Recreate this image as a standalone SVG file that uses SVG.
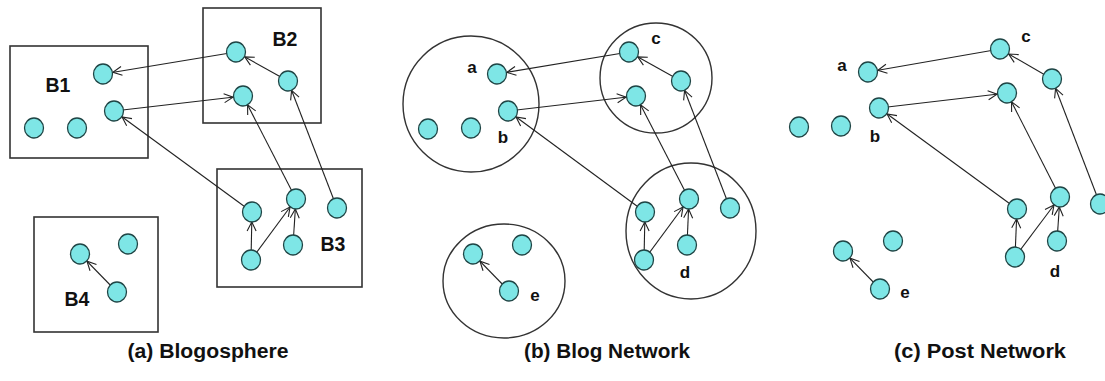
<svg xmlns="http://www.w3.org/2000/svg" width="1105" height="381" viewBox="0 0 1105 381">
<style>
.n{fill:#7ee6e6;stroke:#1f4545;stroke-width:1.3}
.box{fill:none;stroke:#333;stroke-width:1.6}
.grp{fill:none;stroke:#333;stroke-width:1.4}
.e{stroke:#222;stroke-width:1.1;fill:none;marker-end:url(#arr)}
.lb{font-family:"Liberation Sans",Arial,sans-serif;font-weight:bold;font-size:19.5px;fill:#111;text-anchor:middle}
.ll{font-family:"Liberation Sans",Arial,sans-serif;font-weight:bold;font-size:17px;fill:#111;text-anchor:middle}
.cap{font-family:"Liberation Sans",Arial,sans-serif;font-weight:bold;font-size:20px;fill:#111;text-anchor:middle}
</style>
<defs>
<marker id="arr" markerUnits="userSpaceOnUse" markerWidth="30" markerHeight="20" refX="0" refY="0" orient="auto" overflow="visible">
<path d="M-19,-4.5 L-10,0 L-19,4.5" fill="none" stroke="#222" stroke-width="1.1"/>
</marker>
<ellipse id="nd" class="n" cx="0" cy="0" rx="9.5" ry="10"/>
</defs>
<rect width="1105" height="381" fill="#fff"/>

<!-- Panel (a) groups -->
<g id="B1"><rect class="box" x="10" y="46" width="138" height="112"/><text class="lb" x="58" y="92">B1</text></g>
<g id="B2"><rect class="box" x="203" y="8" width="118" height="115"/><text class="lb" x="285" y="46">B2</text></g>
<g id="B3"><rect class="box" x="217" y="169" width="145" height="118"/><text class="lb" x="333" y="251">B3</text></g>
<g id="B4"><rect class="box" x="34" y="217" width="124" height="115"/><text class="lb" x="77" y="306">B4</text></g>

<!-- Panel (b) groups -->
<g id="ga"><ellipse class="grp" cx="471" cy="104" rx="68" ry="68"/></g>
<g id="gc"><ellipse class="grp" cx="656" cy="78" rx="56" ry="55"/></g>
<g id="gd"><ellipse class="grp" cx="691" cy="231" rx="65" ry="68"/></g>
<g id="ge"><ellipse class="grp" cx="504" cy="281" rx="61" ry="57"/></g>

<g id="connectors">
<!-- (a) -->
<line class="e" x1="236" y1="52" x2="103" y2="74"/>
<line class="e" x1="114" y1="111" x2="243" y2="96"/>
<line class="e" x1="288" y1="81" x2="236" y2="52"/>
<line class="e" x1="252" y1="212" x2="114" y2="111"/>
<line class="e" x1="296" y1="199" x2="243" y2="96"/>
<line class="e" x1="337" y1="208" x2="288" y2="81"/>
<line class="e" x1="251" y1="260" x2="252" y2="212"/>
<line class="e" x1="251" y1="260" x2="296" y2="199"/>
<line class="e" x1="293" y1="245" x2="296" y2="199"/>
<line class="e" x1="117" y1="292" x2="80" y2="254"/>
<!-- (b) -->
<line class="e" x1="629" y1="52" x2="497" y2="74"/>
<line class="e" x1="508" y1="111" x2="636" y2="96"/>
<line class="e" x1="681" y1="81" x2="629" y2="52"/>
<line class="e" x1="645" y1="212" x2="508" y2="111"/>
<line class="e" x1="689" y1="199" x2="636" y2="96"/>
<line class="e" x1="730" y1="208" x2="681" y2="81"/>
<line class="e" x1="644" y1="260" x2="645" y2="212"/>
<line class="e" x1="644" y1="260" x2="689" y2="199"/>
<line class="e" x1="687" y1="245" x2="689" y2="199"/>
<line class="e" x1="509" y1="291" x2="473" y2="254"/>
<!-- (c) -->
<line class="e" x1="1000" y1="49" x2="868" y2="72"/>
<line class="e" x1="879" y1="108" x2="1007" y2="93"/>
<line class="e" x1="1052" y1="79" x2="1000" y2="49"/>
<line class="e" x1="1017" y1="209" x2="879" y2="108"/>
<line class="e" x1="1060" y1="197" x2="1007" y2="93"/>
<line class="e" x1="1100" y1="204" x2="1052" y2="79"/>
<line class="e" x1="1015" y1="257" x2="1017" y2="209"/>
<line class="e" x1="1015" y1="257" x2="1060" y2="197"/>
<line class="e" x1="1057" y1="241" x2="1060" y2="197"/>
<line class="e" x1="880" y1="289" x2="843" y2="251"/>
</g>

<!-- nodes (a) -->
<g id="a1"><use href="#nd" x="103" y="74"/></g>
<g id="a2"><use href="#nd" x="114" y="111"/></g>
<g id="a3"><use href="#nd" x="34" y="128"/></g>
<g id="a4"><use href="#nd" x="77" y="128"/></g>
<g id="a5"><use href="#nd" x="236" y="52"/></g>
<g id="a6"><use href="#nd" x="288" y="81"/></g>
<g id="a7"><use href="#nd" x="243" y="96"/></g>
<g id="a8"><use href="#nd" x="252" y="212"/></g>
<g id="a9"><use href="#nd" x="296" y="199"/></g>
<g id="a10"><use href="#nd" x="337" y="208"/></g>
<g id="a11"><use href="#nd" x="293" y="245"/></g>
<g id="a12"><use href="#nd" x="251" y="260"/></g>
<g id="a13"><use href="#nd" x="80" y="254"/></g>
<g id="a14"><use href="#nd" x="128" y="244"/></g>
<g id="a15"><use href="#nd" x="117" y="292"/></g>

<!-- nodes (b) -->
<g id="b1"><use href="#nd" x="497" y="74"/><text class="ll" x="472" y="73">a</text></g>
<g id="b2"><use href="#nd" x="508" y="111"/><text class="ll" x="503" y="143">b</text></g>
<g id="b3"><use href="#nd" x="428" y="129"/></g>
<g id="b4"><use href="#nd" x="471" y="128"/></g>
<g id="b5"><use href="#nd" x="629" y="52"/><text class="ll" x="656" y="44">c</text></g>
<g id="b6"><use href="#nd" x="681" y="81"/></g>
<g id="b7"><use href="#nd" x="636" y="96"/></g>
<g id="b8"><use href="#nd" x="645" y="212"/></g>
<g id="b9"><use href="#nd" x="689" y="199"/></g>
<g id="b10"><use href="#nd" x="730" y="208"/></g>
<g id="b11"><use href="#nd" x="687" y="245"/><text class="ll" x="685" y="278">d</text></g>
<g id="b12"><use href="#nd" x="644" y="260"/></g>
<g id="b13"><use href="#nd" x="473" y="254"/></g>
<g id="b14"><use href="#nd" x="522" y="245"/></g>
<g id="b15"><use href="#nd" x="509" y="291"/><text class="ll" x="535" y="301">e</text></g>

<!-- nodes (c) -->
<g id="c1"><use href="#nd" x="868" y="72"/><text class="ll" x="842" y="71">a</text></g>
<g id="c2"><use href="#nd" x="879" y="108"/><text class="ll" x="875" y="142">b</text></g>
<g id="c3"><use href="#nd" x="799" y="127"/></g>
<g id="c4"><use href="#nd" x="841" y="126"/></g>
<g id="c5"><use href="#nd" x="1000" y="49"/><text class="ll" x="1026" y="42">c</text></g>
<g id="c6"><use href="#nd" x="1052" y="79"/></g>
<g id="c7"><use href="#nd" x="1007" y="93"/></g>
<g id="c8"><use href="#nd" x="1017" y="209"/></g>
<g id="c9"><use href="#nd" x="1060" y="197"/></g>
<g id="c10"><use href="#nd" x="1100" y="204"/></g>
<g id="c11"><use href="#nd" x="1057" y="241"/><text class="ll" x="1055" y="277">d</text></g>
<g id="c12"><use href="#nd" x="1015" y="257"/></g>
<g id="c13"><use href="#nd" x="843" y="251"/></g>
<g id="c14"><use href="#nd" x="893" y="241"/></g>
<g id="c15"><use href="#nd" x="880" y="289"/><text class="ll" x="905" y="298">e</text></g>

<text class="cap" x="208" y="358" textLength="161" lengthAdjust="spacingAndGlyphs">(a) Blogosphere</text>
<text class="cap" x="607" y="358" textLength="166" lengthAdjust="spacingAndGlyphs">(b) Blog Network</text>
<text class="cap" x="980" y="358" textLength="172" lengthAdjust="spacingAndGlyphs">(c) Post Network</text>
</svg>
